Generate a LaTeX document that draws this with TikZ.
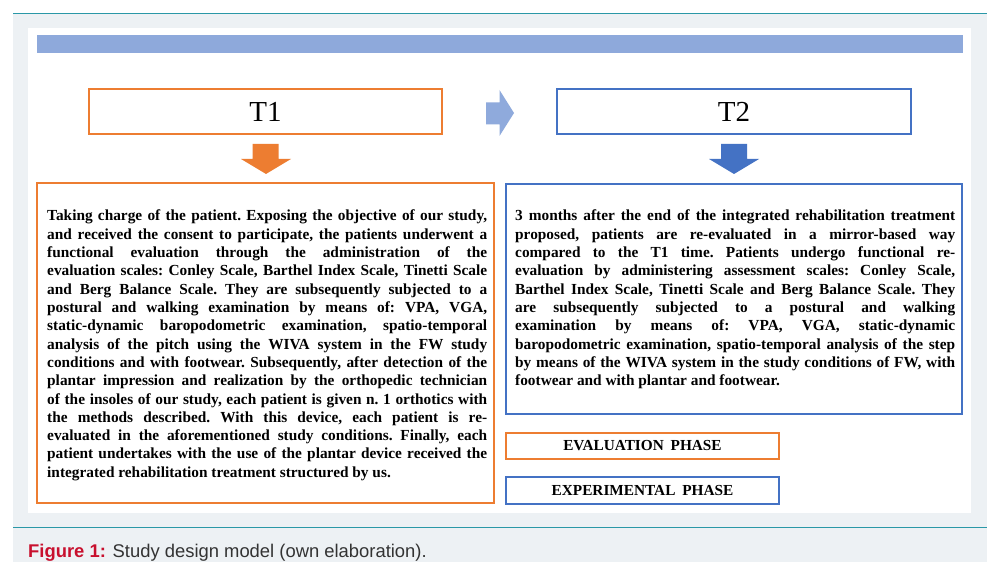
\documentclass[tikz,border=0pt]{standalone}
\usepackage{fontspec}
\setmainfont{Liberation Serif}
\newfontfamily\capfont{Liberation Sans}
\definecolor{panelgray}{HTML}{EDF1F4}
\definecolor{tealline}{HTML}{2A98A7}
\definecolor{bandblue}{HTML}{8EA9DB}
\definecolor{orng}{HTML}{ED7D31}
\definecolor{blu}{HTML}{4472C4}
\definecolor{lblue}{HTML}{8FAADC}
\definecolor{capred}{HTML}{C8102E}
\definecolor{capgray}{HTML}{333333}
\newcommand{\jl}{\linebreak}
\newcommand{\jsetup}{\frenchspacing\tolerance=10000\hyphenpenalty=10000\exhyphenpenalty=10000\emergencystretch=0pt}
\begin{document}
\begin{tikzpicture}[x=1bp,y=-1bp,
  framebox/.style={draw, line width=2bp, inner sep=0, fill=white},
  titlefont/.style={font=\fontsize{29bp}{32bp}\selectfont},
  bodytext/.style={anchor=base west, inner sep=0, text width=440bp, align=justify,
     font=\fontsize{15.35bp}{18.3bp}\selectfont\bfseries\jsetup},
  phasefont/.style={font=\fontsize{15.3bp}{17bp}\selectfont\bfseries}]
\useasboundingbox (0,0) rectangle (990,562);
\fill[white] (0,0) rectangle (990,562);
% outer panel
\fill[panelgray] (13,13) rectangle (987,562);
\draw[tealline, line width=1.5bp] (13,13.5) -- (987,13.5);
\draw[tealline, line width=1.5bp] (13,527.5) -- (987,527.5);
\fill[white] (28,28) rectangle (971,513);
% top band
\node[fill=bandblue, draw=none, inner sep=0, minimum width=926bp, minimum height=18bp] (band) at (500,44) {};
% time boxes
\node[framebox, draw=orng, titlefont, minimum width=353bp, minimum height=45bp] (t1) at (265.5,111.5) {T1};
\node[framebox, draw=blu, titlefont, minimum width=354bp, minimum height=45bp] (t2) at (734,111.5) {T2};
% block arrows
\fill[lblue] (486,102.5) -- (499.5,102.5) -- (499.5,90) -- (514,113) -- (499.5,136) -- (499.5,124.5) -- (486,124.5) -- cycle;
\fill[orng] (252.5,144) -- (278.5,144) -- (278.5,159) -- (291,159) -- (266,174) -- (241,159) -- (252.5,159) -- cycle;
\fill[blu] (721,144) -- (747,144) -- (747,159) -- (759,159) -- (734,174) -- (709,159) -- (721,159) -- cycle;
% text boxes
\node[framebox, draw=orng, minimum width=456bp, minimum height=320bp] (lbox) at (265.5,343) {};
\node[framebox, draw=blu, minimum width=456bp, minimum height=230bp] (rbox) at (733.5,299) {};
\node[bodytext] (ltext) at (47,221) {%
Taking charge of the patient. Exposing the objective of our study,\jl{}
and received the consent to participate, the patients underwent a\jl{}
functional evaluation through the administration of the\jl{}
evaluation scales: Conley Scale, Barthel Index Scale, Tinetti Scale\jl{}
and Berg Balance Scale. They are subsequently subjected to a\jl{}
postural and walking examination by means of: VPA, VGA,\jl{}
static-dynamic baropodometric examination, spatio-temporal\jl{}
analysis of the pitch using the WIVA system in the FW study\jl{}
conditions and with footwear. Subsequently, after detection of the\jl{}
plantar impression and realization by the orthopedic technician\jl{}
of the insoles of our study, each patient is given n. 1 orthotics with\jl{}
the methods described. With this device, each patient is re-\jl{}
evaluated in the aforementioned study conditions. Finally, each\jl{}
patient undertakes with the use of the plantar device received the\jl{}
integrated rehabilitation treatment structured by us.};
\node[bodytext] (rtext) at (515,221) {%
3 months after the end of the integrated rehabilitation treatment\jl{}
proposed, patients are re-evaluated in a mirror-based way\jl{}
compared to the T1 time. Patients undergo functional re-\jl{}
evaluation by administering assessment scales: Conley Scale,\jl{}
Barthel Index Scale, Tinetti Scale and Berg Balance Scale. They\jl{}
are subsequently subjected to a postural and walking\jl{}
examination by means of: VPA, VGA, static-dynamic\jl{}
baropodometric examination, spatio-temporal analysis of the step\jl{}
by means of the WIVA system in the study conditions of FW, with\jl{}
footwear and with plantar and footwear.};
% legend
\node[framebox, draw=orng, phasefont, minimum width=273bp, minimum height=26bp] (eval) at (642.5,446) {EVALUATION\hspace{3bp} PHASE};
\node[framebox, draw=blu, phasefont, minimum width=273bp, minimum height=27bp] (expe) at (642.5,490.5) {EXPERIMENTAL\hspace{3bp} PHASE};
% caption
\node[anchor=base west, inner sep=0, font=\capfont\fontsize{18.4bp}{20bp}\selectfont, text=capgray] (cap) at (28,557) {\textcolor{capred}{\bfseries Figure 1:} Study design model (own elaboration).};
\end{tikzpicture}
\end{document}
